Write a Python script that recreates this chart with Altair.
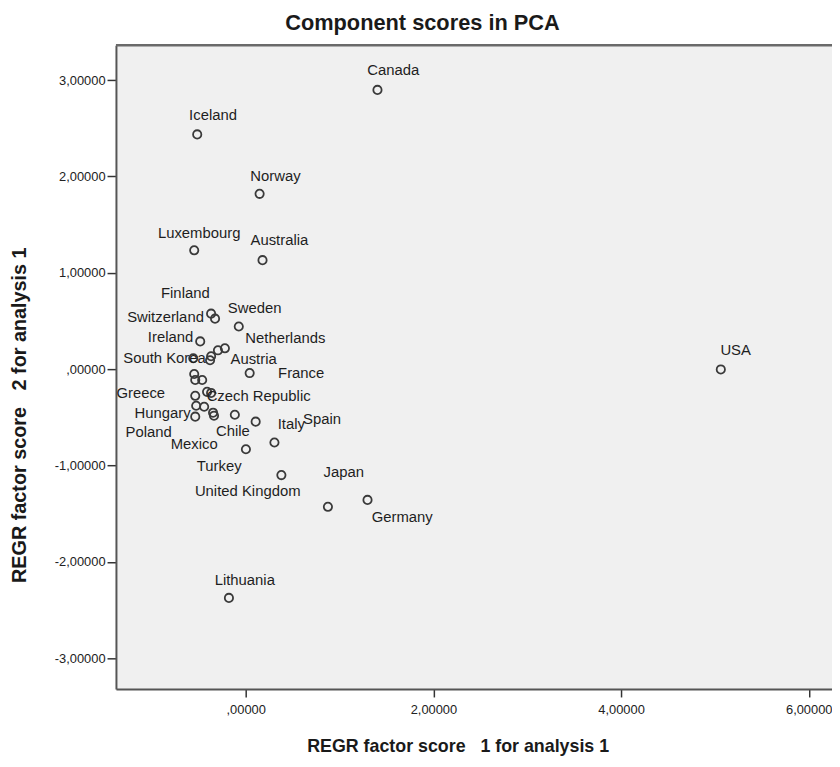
import altair as alt
import pandas as pd

# ---------------- data ----------------
COUNTRIES = [
    "Canada", "Iceland", "Norway", "Luxembourg", "Australia", "Finland",
    "Switzerland", "Sweden", "Ireland", "Netherlands", "Austria", "Belgium",
    "Denmark", "South Korea", "France", "Israel", "New Zealand", "Portugal",
    "Czech Republic", "Slovakia", "Greece", "Hungary", "Estonia", "Poland",
    "Latvia", "Mexico", "Chile", "Spain", "Italy", "Turkey", "United Kingdom",
    "Japan", "Germany", "Lithuania", "USA",
]
SCORE1 = [
    1.404, -0.517, 0.148, -0.549, 0.179, -0.369,
    -0.327, -0.074, -0.485, -0.222, -0.296, -0.369,
    -0.380, -0.559, 0.042, -0.549, -0.538, -0.464,
    -0.369, -0.412, -0.538, -0.528, -0.443, -0.538,
    -0.348, -0.338, -0.116, 0.106, 0.306, 0.002, 0.380,
    0.876, 1.298, -0.179, 5.063,
]
SCORE2 = [
    2.898, 2.436, 1.819, 1.233, 1.131, 0.576,
    0.524, 0.442, 0.288, 0.216, 0.195, 0.134,
    0.092, 0.113, -0.041, -0.051, -0.113, -0.113,
    -0.247, -0.236, -0.277, -0.380, -0.391, -0.493,
    -0.452, -0.483, -0.473, -0.545, -0.761, -0.832, -1.100,
    -1.429, -1.357, -2.374, -0.003,
]

X_TICKS = [0, 2, 4, 6]
X_TICK_LABELS = [",00000", "2,00000", "4,00000", "6,00000"]
Y_TICKS = [-3, -2, -1, 0, 1, 2, 3]
Y_TICK_LABELS = ["-3,00000", "-2,00000", "-1,00000", ",00000",
                 "1,00000", "2,00000", "3,00000"]

TITLE = "Component scores in PCA"
X_TITLE = "REGR factor score\u00a0\u00a0\u00a01 for analysis 1"
Y_TITLE = "REGR factor score\u00a0\u00a0\u00a02 for analysis 1"

# ---------------- layout (label placement in pixels, styles) ----------------
LABEL_OFFSETS = {
    "Canada": (16, -20), "Iceland": (16, -20), "Norway": (16, -18),
    "Luxembourg": (5, -17), "Australia": (17, -20), "Finland": (-26, -21),
    "Switzerland": (-50, -2), "Sweden": (16, -19), "Ireland": (-30, -4),
    "Netherlands": (61, -10), "Austria": (36, 9), "South Korea": (-29, 0),
    "France": (52, 0), "Czech Republic": (48, 3), "Greece": (-55, -3),
    "Hungary": (-34, 7), "Poland": (-47, 16), "Chile": (-2, 17),
    "Spain": (67, -3), "Italy": (17, -19), "Mexico": (-20, 29),
    "Turkey": (-27, 17), "United Kingdom": (-34, 16), "Japan": (16, -35),
    "Germany": (35, 17), "Lithuania": (16, -18), "USA": (15, -20),
}

FONT = "Liberation Sans"
W, H = 723, 650
X_DOMAIN = [-1.383, 6.248]
Y_DOMAIN = [-3.32, 3.361]


def label_expr(ticks, labels):
    expr = "''"
    for t, l in reversed(list(zip(ticks, labels))):
        expr = f"datum.value == {t} ? '{l}' : ({expr})"
    return expr


df = pd.DataFrame({"country": COUNTRIES, "score1": SCORE1, "score2": SCORE2})

X = alt.X(
    "score1:Q",
    scale=alt.Scale(domain=X_DOMAIN, nice=False, zero=False),
    axis=alt.Axis(
        values=X_TICKS, labelExpr=label_expr(X_TICKS, X_TICK_LABELS),
        grid=False, tickSize=8, tickWidth=1.5, tickColor="#333333",
        domainColor="#555555", domainWidth=2,
        labelFont=FONT, labelFontSize=13, labelColor="#222222", labelPadding=7,
        title=X_TITLE, titleFont=FONT, titleFontSize=18, titleFontWeight="bold",
        titleColor="#1a1a1a", titleX=345, titleY=58, titleAlign="center",
        titleBaseline="middle",
    ),
)
Y = alt.Y(
    "score2:Q",
    scale=alt.Scale(domain=Y_DOMAIN, nice=False, zero=False),
    axis=alt.Axis(
        values=Y_TICKS, labelExpr=label_expr(Y_TICKS, Y_TICK_LABELS),
        grid=False, tickSize=9, tickWidth=1.5, tickColor="#333333",
        domainColor="#555555", domainWidth=2,
        labelFont=FONT, labelFontSize=13, labelColor="#222222", labelPadding=2,
        title=Y_TITLE, titleFont=FONT, titleFontSize=20, titleFontWeight="bold",
        titleColor="#1a1a1a", titleX=-97, titleY=373, titleAlign="center",
        titleBaseline="middle", titleAngle=270,
    ),
)

base = alt.Chart(df)

points = base.mark_point(
    shape="circle", filled=False, size=70, strokeWidth=1.8, color="#3a3a3a", opacity=1
).encode(x=X, y=Y)

labels = []
for name, (dx, dy) in LABEL_OFFSETS.items():
    labels.append(
        base.transform_filter(alt.datum.country == name)
        .mark_text(dx=dx, dy=dy, font=FONT, fontSize=15, color="#1e1e1e",
                   align="center", baseline="middle")
        .encode(x=X, y=Y, text="country:N")
    )

top_frame = alt.Chart(pd.DataFrame({"k": [0]})).mark_rule(
    color="#6a6a6a", strokeWidth=2.5
).encode(x=alt.value(0), x2=alt.value(W), y=alt.value(0))

chart = alt.layer(points, *labels, top_frame).properties(
    width=W, height=H,
    autosize=alt.AutoSizeParams(type="none"),
    padding={"left": 109, "top": 34, "right": 0, "bottom": 66},
    title=alt.TitleParams(TITLE, font=FONT, fontSize=22, fontWeight="bold",
                          color="#1a1a1a", anchor="middle", dx=-52, offset=9),
    background="white",
).configure_view(stroke="transparent", fill="#F0F0F0")

chart.save("out.html", embed_options={"renderer": "svg", "actions": False})
